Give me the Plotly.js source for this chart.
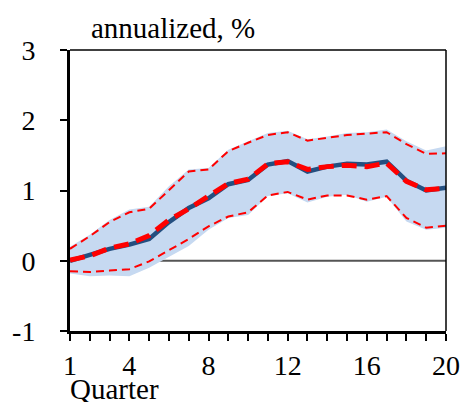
<!DOCTYPE html>
<html>
<head>
<meta charset="utf-8">
<script src="https://cdn.plot.ly/plotly-3.0.1.min.js"></script>
<style>
html,body{margin:0;padding:0;background:#fff}
#chart{width:464px;height:402px}
</style>
</head>
<body>
<div id="chart"></div>
<script>
let quarters=[1,2,3,4,5,6,7,8,9,10,11,12,13,14,15,16,17,18,19,20]

let median=[0,0.08,0.17,0.23,0.31,0.55,0.75,0.89,1.09,1.15,1.37,1.42,1.27,1.34,1.38,1.37,1.41,1.14,1.0,1.04]
let mean=[0.01,0.07,0.18,0.24,0.36,0.58,0.74,0.91,1.1,1.16,1.38,1.41,1.3,1.34,1.36,1.34,1.39,1.13,1.01,1.03]

let upperDash=[0.17,0.35,0.55,0.69,0.74,1.01,1.27,1.3,1.56,1.68,1.79,1.83,1.71,1.75,1.79,1.81,1.83,1.66,1.52,1.53]
let lowerDash=[-0.15,-0.16,-0.14,-0.12,-0.01,0.15,0.31,0.49,0.63,0.69,0.93,0.98,0.87,0.93,0.93,0.87,0.92,0.61,0.47,0.5]

let bandUpper=[0.2,0.37,0.58,0.73,0.77,1.06,1.3,1.32,1.58,1.7,1.82,1.85,1.73,1.77,1.82,1.83,1.87,1.7,1.57,1.63]
let bandLower=[-0.18,-0.22,-0.21,-0.22,-0.1,0.06,0.21,0.44,0.61,0.65,0.92,0.96,0.83,0.91,0.94,0.84,0.91,0.56,0.44,0.47]

let xTickText=quarters.map(q=>[1,4,8,12,16,20].includes(q)?String(q):"")
let yTickVals=[-1,0,1,2,3]
let yTickText=["-1","0","1","2","3"]

let font="\"Liberation Serif\", \"Times New Roman\", serif"

let traces=[
{x:quarters,y:bandLower,mode:"lines",line:{width:0},hoverinfo:"skip",showlegend:false},
{x:quarters,y:bandUpper,mode:"lines",line:{width:0},fill:"tonexty",fillcolor:"#c6d9f1",hoverinfo:"skip",showlegend:false},
{x:quarters,y:upperDash,mode:"lines",line:{color:"#ff0000",width:2,dash:"8px,5px"},showlegend:false},
{x:quarters,y:lowerDash,mode:"lines",line:{color:"#ff0000",width:2,dash:"8px,5px"},showlegend:false},
{x:quarters,y:median,mode:"lines",line:{color:"#244f80",width:4.5},showlegend:false},
{x:quarters,y:mean,mode:"lines",line:{color:"#ff0000",width:5,dash:"15px,8px"},showlegend:false}
]

let layout={
width:464,height:402,
margin:{l:69.5,r:17.5,t:50,b:71},
paper_bgcolor:"#fff",plot_bgcolor:"#fff",
font:{family:font,size:28,color:"#000"},
showlegend:false,
xaxis:{
range:[1,20],tickvals:quarters,ticktext:xTickText,
ticks:"outside",ticklen:7,tickwidth:2,tickcolor:"#000",
showline:true,linewidth:3,linecolor:"#000",
showgrid:false,zeroline:false,
tickfont:{family:font,size:28},tickangle:0
},
yaxis:{
range:[-1,3],tickvals:yTickVals,ticktext:yTickText,
ticks:"outside",ticklen:7,tickwidth:2,tickcolor:"#000",
showline:true,linewidth:3,linecolor:"#000",
showgrid:false,zeroline:false,
tickfont:{family:font,size:28},ticklabelstandoff:19
},
shapes:[
{type:"line",xref:"x",yref:"y",x0:1,x1:20,y0:0,y1:0,line:{color:"#555",width:2},layer:"below"},
{type:"line",xref:"paper",yref:"paper",x0:0,x1:1,y0:1,y1:1,line:{color:"#000",width:1.5}},
{type:"line",xref:"paper",yref:"paper",x0:1,x1:1,y0:0,y1:1,line:{color:"#000",width:1.5}}
],
annotations:[
{text:"annualized, %",xref:"paper",yref:"paper",x:0.05,y:1,xanchor:"left",yanchor:"bottom",yshift:4,showarrow:false,font:{family:font,size:29}},
{text:"Quarter",xref:"paper",yref:"paper",x:-0.005,y:0,xanchor:"left",yanchor:"top",yshift:-40,showarrow:false,font:{family:font,size:29}}
]
}

Plotly.newPlot("chart",traces,layout,{staticPlot:true,displayModeBar:false})
</script>
</body>
</html>
